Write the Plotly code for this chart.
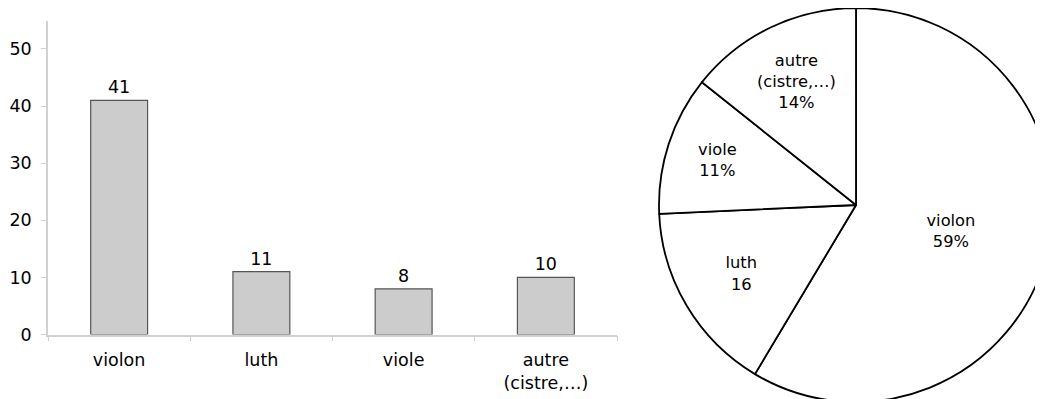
import plotly.graph_objects as go

categories = ["violon", "luth", "viole", "autre<br>(cistre,…)"]
counts = [41, 11, 8, 10]
pie_text = ["violon<br>59%", "luth<br>16", "viole<br>11%", "autre<br>(cistre,…)<br>14%"]
y_ticks = [0, 10, 20, 30, 40, 50]

FONT = "DejaVu Sans"
FS = 17.5
PIE_FS = 16.3
W, H = 1060, 399
OFF = 8  # page body margin

fig = go.Figure()
fig.add_trace(go.Bar(
    x=categories, y=counts, text=[str(v) for v in counts],
    textposition="outside", cliponaxis=False,
    textfont=dict(family=FONT, size=FS, color="black"),
    marker=dict(color="#cccccc", line=dict(color="#555555", width=1.2)),
    width=0.4, xaxis="x", yaxis="y", showlegend=False, hoverinfo="skip",
))

pie_r = 197
cx, cy = 856 - OFF, 205 - OFF
fig.add_trace(go.Pie(
    values=counts, labels=["violon", "luth", "viole", "autre"],
    text=pie_text, textinfo="text", textposition="inside",
    insidetextorientation="horizontal",
    textfont=dict(family=FONT, size=PIE_FS, color="black"),
    marker=dict(colors=["white"] * 4, line=dict(color="black", width=1.8)),
    sort=False, direction="clockwise", rotation=0,
    domain=dict(x=[(cx - pie_r) / W, (cx + pie_r) / W],
                y=[(H - cy - pie_r) / H, min(1.0, (H - cy + pie_r) / H)]),
    showlegend=False, hoverinfo="skip",
))

fig.update_layout(
    width=W, height=H,
    margin=dict(l=0, r=0, t=0, b=0),
    paper_bgcolor="white", plot_bgcolor="white",
    font=dict(family=FONT, size=FS, color="black"),
    xaxis=dict(domain=[(48 - OFF) / W, (617 - OFF) / W], showline=True, linecolor="#d0d0d0", linewidth=1.5,
               ticks="outside", ticklen=5, tickcolor="#d0d0d0", tickson="boundaries",
               ticklabelstandoff=9,
               showgrid=False, zeroline=False, automargin=False,
               tickfont=dict(family=FONT, size=FS, color="black")),
    yaxis=dict(domain=[(H - (334.5 - OFF)) / H, (H - (21 - OFF)) / H], range=[0, 54.9],
               tickvals=y_ticks, showline=True, linecolor="#d0d0d0", linewidth=1.5,
               ticks="outside", ticklen=5, tickcolor="#d0d0d0",
               ticklabelstandoff=6,
               showgrid=False, zeroline=False, automargin=False,
               tickfont=dict(family=FONT, size=FS, color="black")),
)

fig.write_html("out.html")
